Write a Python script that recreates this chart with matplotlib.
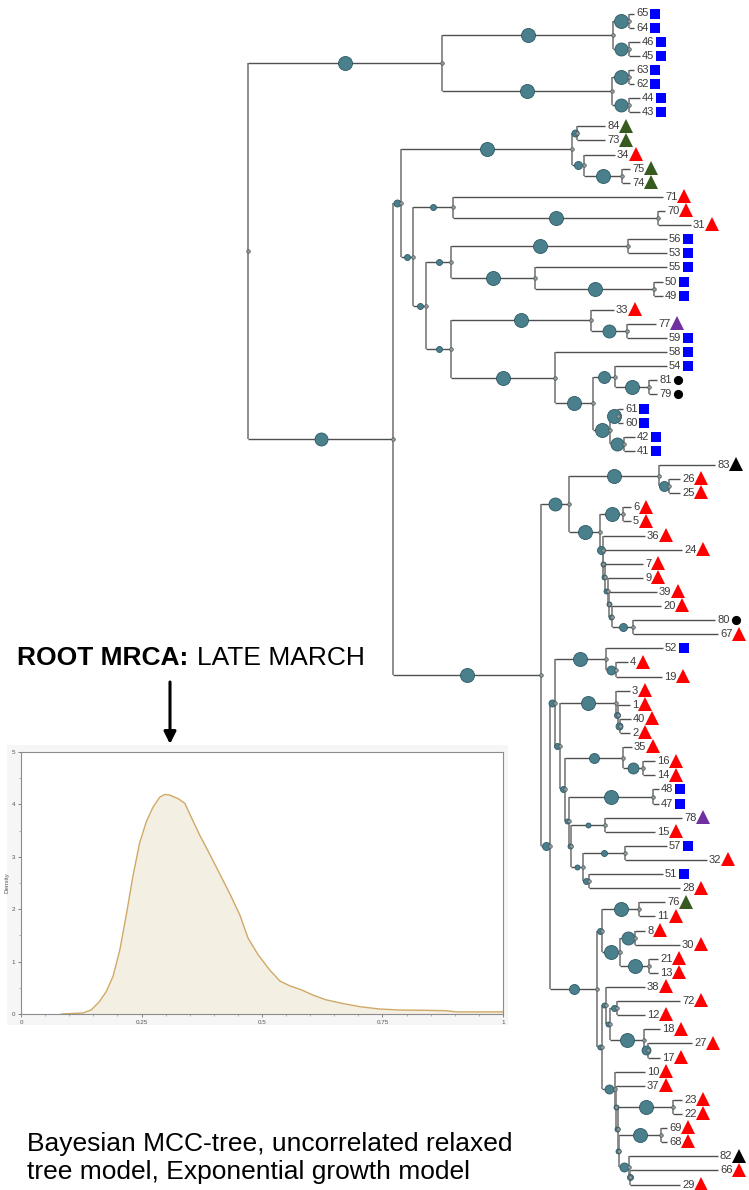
import matplotlib
matplotlib.use('Agg')
import matplotlib.pyplot as plt
from matplotlib.patches import Rectangle

plt.rcParams['font.family'] = ['Liberation Sans', 'DejaVu Sans']

# ---------------- data ----------------
# MCC tree: internal node label = posterior circle diameter (px), ':' = branch length
TOP_CLADE = "(((65:5,64:5)14:16,(46:11,45:11)13:16)14:171,((63:5,62:5)14:17,(44:11,43:11)13:17)14:170)14:194"
C1 = "((84:28,73:28)7:5,(34:31,(75:8,74:8)14:38)8:12)14:171"
W = "(71:210,(70:7,31:33)14:205)6:40"
X1 = "((56:39,53:39)14:177,(55:132,(50:9,49:9)14:119)14:84)6:25"
X2 = ("((33:23,(77:29,59:40)13:36)14:140,(58:112,((54:52,(81:8,79:8)14:34)12:22,"
      "((61:5,60:5)14:8,(42:11,41:11)13:14)14:17)14:38)14:104)6:25")
U = "(" + C1 + ",(" + W + ",(" + X1 + "," + X2 + ")6:13)6:12)7:8"
P1 = "(83:56,(26:11,25:11)10:10)14:90"
P2 = ("((6:8,5:8)14:23,(36:42.3,(24:78.7,(7:38,(9:35.3,(39:47.7,(20:48.7,"
      "(80:81.7,67:84.7)8:21)5:3)5:1.6)5:2.7)5:1.7)5:0.6)8:2.7)14:31")
S3 = ("((35:9,(16:12,14:12)11:20)10:58,((48:6,47:6)14:84,((78:77,15:50)5:34,"
      "((57:42,32:82)6:42,(51:74,28:91)6:6)5:12)5:2)5:4)6:5")
S = "((52:57,(4:12,19:46)9:10)14:51.3,((3:14,(1:12,(40:11,2:10)7:2)6:2)14:56," + S3 + ")6:5.3)7:4.7"
R1 = "((76:26,11:16)14:37,((8:10,30:45)13:15,(21:9,13:9)14:29)14:18)6:5"
R2 = ("((38:39,((72:63,12:28)6:7,(18:16,(27:44,17:12)9:4)14:34)5:4)5:4,"
      "(10:30,(37:29,((23:9,22:9)14:55,((69:6,68:6)14:42.5,(82:89,(66:88,29:50)6:1)9:10.5)5:0.5)5:2)5:1)9:13)5:5")
L = "((" + P1 + "," + P2 + ")13:28,(" + S + ",(" + R1 + "," + R2 + ")10:47)8:9)14:148"
NEWICK = "(" + TOP_CLADE + ",(" + U + "," + L + ")13:145);"

blue_square_tips = ["65", "64", "46", "45", "63", "62", "44", "43", "56", "53", "55", "50", "49",
                    "59", "58", "54", "61", "60", "42", "41", "52", "48", "47", "57", "51"]
green_triangle_tips = ["84", "73", "75", "74", "76"]
purple_triangle_tips = ["77", "78"]
black_circle_tips = ["81", "79", "80"]
black_triangle_tips = ["83", "82"]
# all remaining tips: red triangles

density_x = [0.084, 0.129, 0.146, 0.163, 0.177, 0.191, 0.205, 0.219, 0.232, 0.246, 0.260, 0.274,
             0.288, 0.298, 0.308, 0.326, 0.340, 0.353, 0.371, 0.391, 0.412, 0.433, 0.454, 0.471,
             0.492, 0.516, 0.537, 0.557, 0.582, 0.606, 0.633, 0.668, 0.703, 0.744, 0.786, 0.841,
             0.882, 0.903, 1.0]
density_y = [0.0, 0.02, 0.08, 0.24, 0.43, 0.72, 1.22, 1.92, 2.62, 3.26, 3.67, 3.95,
             4.14, 4.19, 4.18, 4.11, 4.02, 3.76, 3.41, 3.06, 2.68, 2.30, 1.89, 1.45,
             1.13, 0.84, 0.63, 0.54, 0.46, 0.36, 0.27, 0.20, 0.14, 0.095, 0.076, 0.07,
             0.063, 0.04, 0.04]

# ---------------- tree parsing ----------------
def parse_newick(s):
    pos = 0

    def node():
        nonlocal pos
        children = []
        if s[pos] == '(':
            pos += 1
            while True:
                children.append(node())
                if s[pos] == ',':
                    pos += 1
                else:
                    pos += 1
                    break
        start = pos
        while s[pos] not in ':,);':
            pos += 1
        label = s[start:pos]
        length = 0.0
        if s[pos] == ':':
            pos += 1
            start = pos
            while s[pos] not in ',);':
                pos += 1
            length = float(s[start:pos])
        return {'label': label, 'length': length, 'children': children}

    return node()


root = parse_newick(NEWICK)
tips = []


def layout(n, parent_x):
    n['px'] = parent_x
    n['x'] = parent_x + n['length']
    if n['children']:
        for c in n['children']:
            layout(c, n['x'])
        n['y'] = (n['children'][0]['y'] + n['children'][-1]['y']) / 2.0
    else:
        n['y'] = len(tips)
        tips.append(n)


layout(root, 0.0)

# ---------------- figure ----------------
W_PX, H_PX = 749, 1190
fig = plt.figure(figsize=(W_PX / 100, H_PX / 100), dpi=100)
fig.patch.set_facecolor('white')

ax = fig.add_axes([0, 0, 1, 1])
ax.set_axis_off()
ROOT_PX = 248.0
TIP0, TIPN = 13.5, 1184.5
ntip = len(tips)
step = (TIPN - TIP0) / (ntip - 1)
ax.set_xlim(-ROOT_PX, W_PX - ROOT_PX)
ax.set_ylim((H_PX - TIP0) / step, -TIP0 / step)

H_COL = '#505050'
V_COL = '#858585'
CIRC_FC = '#4a7f8c'
CIRC_EC = '#2e5a66'


def draw(n, is_root=False):
    if not is_root:
        ax.plot([n['px'], n['x']], [n['y'], n['y']], color=H_COL, lw=1.0,
                solid_capstyle='butt', zorder=2)
    if n['children']:
        ax.plot([n['x'], n['x']], [n['children'][0]['y'], n['children'][-1]['y']],
                color=V_COL, lw=1.3, solid_capstyle='butt', zorder=2)
        if not is_root and n['label']:
            d = float(n['label']) * 0.72
            ax.scatter([(n['px'] + n['x']) / 2.0], [n['y']], s=d * d, color=CIRC_FC,
                       edgecolors=CIRC_EC, linewidths=0.6, zorder=4)
        ax.scatter([n['x']], [n['y']], s=2.6 ** 2, color='#8c9ea3', edgecolors='#555555',
                   linewidths=0.5, zorder=5)
        for c in n['children']:
            draw(c)


draw(root, is_root=True)

for t in tips:
    name = t['label']
    ax.text(t['x'] + 2, t['y'], name, fontsize=8, color='#3a3a3a', va='center', ha='left',
            zorder=6)
    mx = t['x'] + 2 + len(name) * 6.2 + 7
    if name in blue_square_tips:
        ax.plot(mx, t['y'], marker='s', ms=7.2, color='#0000ff', mec='#0000ff', mew=0, zorder=6)
    elif name in green_triangle_tips:
        ax.plot(mx, t['y'] - 0.05, marker='^', ms=9.6, color='#375a1e', mew=0, zorder=6)
    elif name in purple_triangle_tips:
        ax.plot(mx, t['y'] - 0.05, marker='^', ms=9.6, color='#7030a0', mew=0, zorder=6)
    elif name in black_circle_tips:
        ax.plot(mx, t['y'], marker='o', ms=6.6, color='black', mew=0, zorder=6)
    elif name in black_triangle_tips:
        ax.plot(mx, t['y'] - 0.05, marker='^', ms=9.6, color='black', mew=0, zorder=6)
    else:
        ax.plot(mx, t['y'] - 0.05, marker='^', ms=9.6, color='#ff0000', mew=0, zorder=6)

# ---------------- inset density ----------------
fig.patches.append(Rectangle((7 / W_PX, 1 - 1025 / H_PX), (508 - 7) / W_PX, (1025 - 745) / H_PX,
                             transform=fig.transFigure, facecolor='#f6f6f6', edgecolor='none',
                             zorder=0))
ins = fig.add_axes([21 / W_PX, 1 - 1014 / H_PX, (503 - 21) / W_PX, (1014 - 752) / H_PX])
ins.set_zorder(3)
ins.set_facecolor('white')
ins.fill_between(density_x, density_y, 0, color='#f4efe3', lw=0)
ins.plot(density_x, density_y, color='#cfa965', lw=1.0)
ins.set_xlim(0, 1)
ins.set_ylim(0, 5)
ins.set_xticks([0, 0.25, 0.5, 0.75, 1])
ins.set_xticklabels(['0', '0.25', '0.5', '0.75', '1'])
ins.set_yticks([0, 1, 2, 3, 4, 5])
ins.set_xticks([i * 0.05 for i in range(21)], minor=True)
ins.set_yticks([i * 0.5 for i in range(11)], minor=True)
ins.tick_params(axis='both', which='major', labelsize=4.5, length=2.5, width=0.5, colors='#555555',
                pad=1.5)
ins.tick_params(axis='both', which='minor', length=1.5, width=0.4, colors='#777777')
for sp in ins.spines.values():
    sp.set_color('#8c8c8c')
    sp.set_linewidth(0.8)
ins.set_ylabel('Density', fontsize=4.5, color='#555555', labelpad=2)

# ---------------- annotations ----------------
t1 = fig.text(17 / W_PX, 1 - 665 / H_PX, 'ROOT MRCA:', fontsize=19, fontweight='bold',
              va='baseline', ha='left', color='black')
fig.canvas.draw()
bb = t1.get_window_extent()
fig.text((bb.x1 + 9) / W_PX, 1 - 665 / H_PX, 'LATE MARCH', fontsize=19, va='baseline',
         ha='left', color='black')
ax.annotate('', xy=(170, H_PX - 744), xytext=(170, H_PX - 682), xycoords='figure pixels',
            textcoords='figure pixels',
            arrowprops=dict(arrowstyle='-|>', lw=2.2, color='black', mutation_scale=18,
                            shrinkA=0, shrinkB=0))

fig.text(27 / W_PX, 1 - 1151 / H_PX, 'Bayesian MCC-tree, uncorrelated relaxed', fontsize=19,
         va='baseline', ha='left', color='black')
fig.text(27 / W_PX, 1 - 1179 / H_PX, 'tree model, Exponential growth model', fontsize=19,
         va='baseline', ha='left', color='black')

fig.savefig('out.png', dpi=100, facecolor='white')
